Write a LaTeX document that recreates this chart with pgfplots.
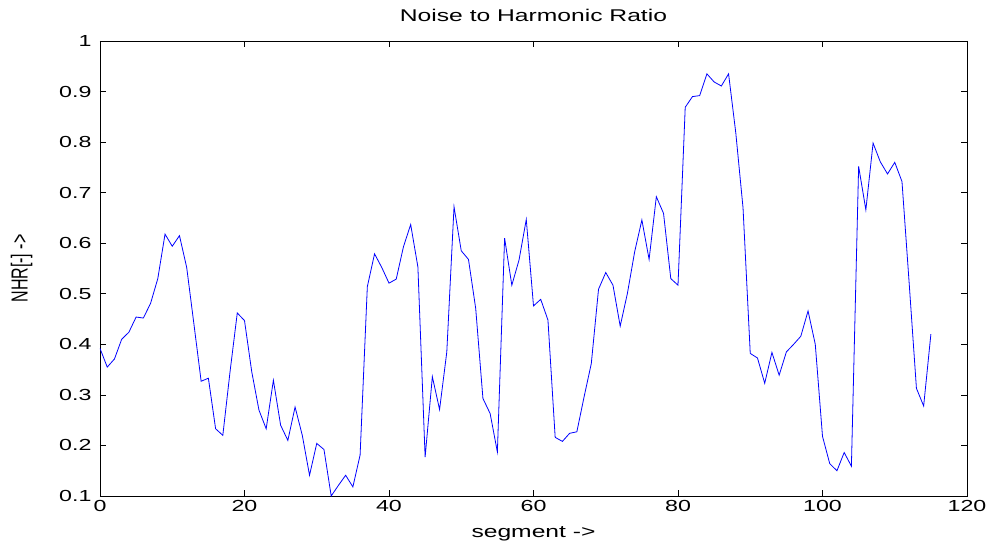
\documentclass[border=0pt]{standalone}
\usepackage{fontspec}
\setmainfont[FakeStretch=1.45]{Liberation Sans}
\newfontfamily\plainfont{Liberation Sans}
\usepackage{graphicx}
\usepackage{pgfplots}
\pgfplotsset{compat=1.18}

\pgfplotstableread{
seg nhr
0 0.392
1 0.355
2 0.371
3 0.410
4 0.424
5 0.454
6 0.452
7 0.481
8 0.530
9 0.618
10 0.594
11 0.615
12 0.552
13 0.440
14 0.327
15 0.333
16 0.233
17 0.220
18 0.346
19 0.462
20 0.447
21 0.346
22 0.270
23 0.233
24 0.329
25 0.240
26 0.210
27 0.276
28 0.220
29 0.141
30 0.204
31 0.192
32 0.100
33 0.121
34 0.141
35 0.118
36 0.181
37 0.514
38 0.579
39 0.552
40 0.521
41 0.529
42 0.593
43 0.637
44 0.553
45 0.177
46 0.336
47 0.271
48 0.385
49 0.672
50 0.585
51 0.568
52 0.471
53 0.293
54 0.263
55 0.187
56 0.610
57 0.517
58 0.567
59 0.647
60 0.476
61 0.489
62 0.448
63 0.216
64 0.208
65 0.224
66 0.227
67 0.296
68 0.362
69 0.509
70 0.542
71 0.517
72 0.436
73 0.501
74 0.583
75 0.646
76 0.568
77 0.692
78 0.659
79 0.530
80 0.517
81 0.869
82 0.890
83 0.892
84 0.935
85 0.919
86 0.911
87 0.935
88 0.818
89 0.670
90 0.382
91 0.373
92 0.323
93 0.384
94 0.339
95 0.385
96 0.400
97 0.416
98 0.466
99 0.400
100 0.218
101 0.164
102 0.150
103 0.186
104 0.159
105 0.752
106 0.666
107 0.798
108 0.761
109 0.737
110 0.760
111 0.722
112 0.520
113 0.313
114 0.278
115 0.420
}\nhrdata

\begin{document}
\begin{tikzpicture}
\begin{axis}[
    name=ax,
    scale only axis,
    width=867bp, height=455bp,
    xmin=0, xmax=120, ymin=0.1, ymax=1,
    xtick={0,20,...,120},
    ytick={0.1,0.2,...,1.0},
    yticklabels={0.1,0.2,0.3,0.4,0.5,0.6,0.7,0.8,0.9,1},
    tick align=inside,
    major tick length=6bp,
    axis line style={line width=0.9bp},
    tick style={line width=0.6bp, black},
    /pgf/number format/assume math mode=true,
    tick label style={font=\fontsize{16bp}{19bp}\selectfont},
    xticklabel style={yshift=-1bp},
    yticklabel style={xshift=-5bp},
    title={Noise to Harmonic Ratio},
    title style={font=\fontsize{17bp}{20bp}\selectfont, at={(axis description cs:0.5,1.043)}, anchor=center},
    xlabel={segment ->},
    xlabel style={font=\fontsize{17bp}{20bp}\selectfont, at={(axis description cs:0.5,-0.083)}, anchor=center},
    ylabel={\scalebox{1}[1.45]{\plainfont NHR[-] ->}},
    ylabel style={font=\fontsize{16bp}{19bp}\selectfont, at={(axis description cs:-0.0905,0.5)}, anchor=center, rotate=0},
]
\addplot[color={rgb,255:red,0;green,0;blue,255}, line width=0.8bp, mark=none] table[x=seg, y=nhr] {\nhrdata};
\end{axis}
\pgfresetboundingbox
\path[use as bounding box] ([xshift=-100bp,yshift=-46bp]ax.south west) rectangle ([xshift=25bp,yshift=41bp]ax.north east);
\end{tikzpicture}
\end{document}
